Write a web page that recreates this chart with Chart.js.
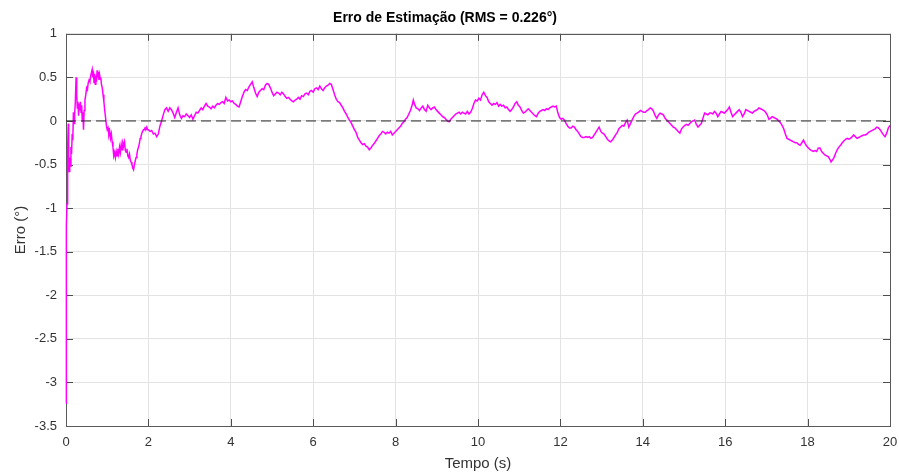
<!DOCTYPE html>
<html>
<head>
<meta charset="utf-8">
<script src="https://cdn.jsdelivr.net/npm/chart.js@4.4.0/dist/chart.umd.min.js"></script>
<style>
  html, body { margin: 0; padding: 0; background: #fff; }
  #wrap { width: 899px; height: 473px; }
</style>
</head>
<body>
<div id="wrap"><canvas id="myChart" width="899" height="473"></canvas></div>
<script>
// tempo (s) e erro (graus)
var tempo = [
  0, 0.004, 0.008, 0.015, 0.025, 0.035, 0.045, 0.055, 0.065, 0.075, 0.09, 0.105, 0.12, 0.135, 0.15, 0.165, 0.18, 0.195, 0.21, 0.225,
  0.245, 0.26, 0.275, 0.29, 0.305, 0.32, 0.335, 0.35, 0.365, 0.38, 0.395, 0.41, 0.425, 0.44, 0.46, 0.48, 0.5, 0.52, 0.54, 0.56,
  0.58, 0.6, 0.62, 0.635, 0.65, 0.665, 0.68, 0.695, 0.71, 0.725, 0.74, 0.755, 0.77, 0.785, 0.8, 0.815, 0.83, 0.845, 0.86, 0.88,
  0.9, 0.92, 0.94, 0.96, 0.98, 1.0, 1.02, 1.04, 1.06, 1.08, 1.1, 1.12, 1.14, 1.16, 1.18, 1.2, 1.22, 1.24, 1.26, 1.28,
  1.3, 1.32, 1.34, 1.36, 1.38, 1.4, 1.42, 1.44, 1.46, 1.48, 1.5, 1.52, 1.54, 1.56, 1.58, 1.6, 1.62, 1.64, 1.66, 1.68,
  1.7, 1.72, 1.74, 1.76, 1.78, 1.8, 1.82, 1.84, 1.86, 1.88, 1.9, 1.92, 1.94, 1.96, 1.98, 2.0, 2.04, 2.08, 2.12, 2.16,
  2.2, 2.24, 2.28, 2.32, 2.36, 2.4, 2.44, 2.48, 2.52, 2.56, 2.6, 2.64, 2.68, 2.72, 2.76, 2.8, 2.84, 2.88, 2.92, 2.96,
  3.0, 3.04, 3.08, 3.12, 3.16, 3.2, 3.24, 3.28, 3.32, 3.36, 3.4, 3.44, 3.48, 3.52, 3.56, 3.6, 3.64, 3.68, 3.72, 3.76,
  3.8, 3.84, 3.88, 3.92, 3.96, 4.0, 4.04, 4.08, 4.12, 4.16, 4.2, 4.24, 4.28, 4.32, 4.36, 4.4, 4.44, 4.48, 4.52, 4.56,
  4.6, 4.64, 4.68, 4.72, 4.76, 4.8, 4.84, 4.88, 4.92, 4.96, 5.0, 5.04, 5.08, 5.12, 5.16, 5.2, 5.24, 5.28, 5.32, 5.36,
  5.4, 5.44, 5.48, 5.52, 5.56, 5.6, 5.64, 5.68, 5.72, 5.76, 5.8, 5.84, 5.88, 5.92, 5.96, 6.0, 6.04, 6.08, 6.12, 6.16,
  6.2, 6.24, 6.28, 6.32, 6.36, 6.4, 6.44, 6.48, 6.52, 6.56, 6.6, 6.64, 6.68, 6.72, 6.76, 6.8, 6.84, 6.88, 6.92, 6.96,
  7.0, 7.04, 7.08, 7.12, 7.16, 7.2, 7.24, 7.28, 7.32, 7.36, 7.4, 7.44, 7.48, 7.52, 7.56, 7.6, 7.64, 7.68, 7.72, 7.76,
  7.8, 7.84, 7.88, 7.92, 7.96, 8.0, 8.04, 8.08, 8.12, 8.16, 8.2, 8.24, 8.28, 8.32, 8.36, 8.4, 8.43, 8.46, 8.5, 8.54,
  8.58, 8.62, 8.66, 8.7, 8.74, 8.78, 8.82, 8.86, 8.9, 8.94, 8.98, 9.02, 9.06, 9.1, 9.14, 9.18, 9.22, 9.26, 9.3, 9.34,
  9.38, 9.42, 9.46, 9.5, 9.54, 9.58, 9.62, 9.66, 9.7, 9.74, 9.78, 9.82, 9.86, 9.9, 9.94, 9.98, 10.02, 10.06, 10.1, 10.14,
  10.18, 10.22, 10.26, 10.3, 10.34, 10.38, 10.42, 10.46, 10.5, 10.54, 10.58, 10.62, 10.66, 10.7, 10.74, 10.78, 10.82, 10.86, 10.9, 10.94,
  10.98, 11.02, 11.06, 11.1, 11.14, 11.18, 11.22, 11.26, 11.3, 11.34, 11.38, 11.42, 11.46, 11.5, 11.54, 11.58, 11.62, 11.66, 11.7, 11.74,
  11.78, 11.82, 11.86, 11.9, 11.94, 11.98, 12.02, 12.06, 12.1, 12.14, 12.18, 12.22, 12.26, 12.3, 12.34, 12.38, 12.42, 12.46, 12.5, 12.54,
  12.58, 12.62, 12.66, 12.7, 12.74, 12.78, 12.82, 12.86, 12.9, 12.94, 12.98, 13.02, 13.06, 13.1, 13.14, 13.18, 13.22, 13.26, 13.3, 13.34,
  13.38, 13.42, 13.46, 13.5, 13.54, 13.58, 13.62, 13.66, 13.7, 13.74, 13.78, 13.82, 13.86, 13.9, 13.94, 13.98, 14.02, 14.06, 14.1, 14.14,
  14.18, 14.22, 14.26, 14.3, 14.34, 14.38, 14.42, 14.46, 14.5, 14.54, 14.58, 14.62, 14.66, 14.7, 14.74, 14.78, 14.82, 14.86, 14.9, 14.94,
  14.98, 15.02, 15.06, 15.1, 15.14, 15.18, 15.22, 15.26, 15.3, 15.34, 15.38, 15.42, 15.46, 15.5, 15.54, 15.58, 15.62, 15.66, 15.7, 15.74,
  15.78, 15.82, 15.86, 15.9, 15.94, 15.98, 16.02, 16.06, 16.1, 16.14, 16.18, 16.22, 16.26, 16.3, 16.34, 16.38, 16.42, 16.46, 16.5, 16.54,
  16.58, 16.62, 16.66, 16.7, 16.74, 16.78, 16.82, 16.86, 16.9, 16.94, 16.98, 17.02, 17.06, 17.1, 17.14, 17.18, 17.22, 17.26, 17.3, 17.34,
  17.38, 17.42, 17.46, 17.5, 17.54, 17.58, 17.62, 17.66, 17.7, 17.74, 17.78, 17.82, 17.86, 17.9, 17.94, 17.98, 18.02, 18.06, 18.1, 18.14,
  18.18, 18.22, 18.26, 18.3, 18.34, 18.38, 18.42, 18.46, 18.5, 18.54, 18.57, 18.6, 18.64, 18.68, 18.72, 18.76, 18.8, 18.84, 18.88, 18.92,
  18.96, 19.0, 19.04, 19.08, 19.12, 19.16, 19.2, 19.24, 19.28, 19.32, 19.36, 19.4, 19.44, 19.48, 19.52, 19.56, 19.6, 19.64, 19.68, 19.72,
  19.76, 19.8, 19.84, 19.88, 19.92, 19.96, 20.0
];
var erro = [
  -3.24, -2.3, -1.6, -1.2, -0.95, -0.7, -0.3, -0.03, -0.4, -0.58, -0.42, -0.52, -0.3, -0.38, -0.15, -0.22, 0.1, -0.03, 0.08, 0.2,
  0.5, 0.3, 0.15, 0.22, 0.06, 0.2, 0.12, 0.22, 0.1, 0.18, 0.0, 0.1, -0.1, 0.12, 0.24, 0.3, 0.38, 0.36, 0.44, 0.47,
  0.45, 0.52, 0.56, 0.59, 0.5, 0.57, 0.44, 0.54, 0.42, 0.52, 0.45, 0.58, 0.5, 0.56, 0.47, 0.53, 0.48, 0.5, 0.42, 0.38,
  0.3, 0.22, 0.12, 0.04, -0.05, -0.1, -0.08, -0.16, -0.12, -0.2, -0.15, -0.24, -0.3, -0.4, -0.36, -0.42, -0.35, -0.4, -0.32, -0.38,
  -0.3, -0.36, -0.27, -0.33, -0.25, -0.28, -0.24, -0.34, -0.36, -0.32, -0.4, -0.42, -0.38, -0.45, -0.47, -0.5, -0.54, -0.56, -0.5, -0.46,
  -0.42, -0.38, -0.33, -0.3, -0.26, -0.2, -0.18, -0.14, -0.12, -0.1, -0.1, -0.08, -0.09, -0.07, -0.1, -0.1, -0.12, -0.11, -0.15, -0.14,
  -0.18, -0.15, -0.06, 0.0, 0.07, 0.13, 0.15, 0.11, 0.15, 0.13, 0.09, 0.04, 0.1, 0.15, 0.07, 0.03, 0.06, 0.05, 0.08, 0.06,
  0.04, 0.07, 0.02, 0.06, 0.1, 0.09, 0.12, 0.15, 0.13, 0.17, 0.2, 0.17, 0.16, 0.14, 0.17, 0.15, 0.18, 0.2, 0.19, 0.21,
  0.22, 0.2, 0.27, 0.23, 0.24, 0.22, 0.23, 0.2, 0.19, 0.17, 0.16, 0.22, 0.28, 0.33, 0.36, 0.35, 0.39, 0.42, 0.45, 0.38,
  0.32, 0.28, 0.33, 0.35, 0.37, 0.36, 0.41, 0.43, 0.42, 0.38, 0.33, 0.29, 0.31, 0.33, 0.32, 0.3, 0.33, 0.31, 0.28, 0.26,
  0.27, 0.25, 0.23, 0.22, 0.24, 0.25, 0.27, 0.25, 0.29, 0.28, 0.31, 0.32, 0.3, 0.34, 0.35, 0.33, 0.37, 0.38, 0.36, 0.4,
  0.37, 0.35, 0.38, 0.4, 0.41, 0.43, 0.42, 0.36, 0.3, 0.25, 0.22, 0.21, 0.18, 0.15, 0.11, 0.08, 0.04, 0.01, -0.02, -0.06,
  -0.1, -0.13, -0.19, -0.22, -0.25, -0.27, -0.26, -0.29, -0.3, -0.33, -0.31, -0.28, -0.26, -0.23, -0.2, -0.17, -0.15, -0.12, -0.13, -0.15,
  -0.13, -0.14, -0.12, -0.16, -0.14, -0.12, -0.1, -0.08, -0.06, -0.03, -0.01, 0.02, 0.04, 0.08, 0.12, 0.18, 0.24, 0.19, 0.15, 0.14,
  0.12, 0.15, 0.17, 0.13, 0.11, 0.18, 0.15, 0.13, 0.15, 0.16, 0.13, 0.11, 0.09, 0.07, 0.05, 0.04, 0.02, 0.0, -0.01, 0.02,
  0.04, 0.06, 0.08, 0.09, 0.1, 0.08, 0.1, 0.09, 0.08, 0.11, 0.08, 0.1, 0.14, 0.2, 0.24, 0.23, 0.26, 0.24, 0.3, 0.33,
  0.29, 0.27, 0.22, 0.2, 0.18, 0.2, 0.19, 0.21, 0.17, 0.19, 0.17, 0.18, 0.15, 0.16, 0.13, 0.11, 0.13, 0.16, 0.2, 0.22,
  0.18, 0.16, 0.12, 0.09, 0.1, 0.12, 0.14, 0.12, 0.1, 0.08, 0.06, 0.05, 0.09, 0.11, 0.12, 0.13, 0.12, 0.14, 0.13, 0.15,
  0.16, 0.17, 0.16, 0.17, 0.09, 0.04, 0.02, 0.03, 0.01, -0.03, -0.06, -0.08, -0.08, -0.06, -0.07, -0.1, -0.12, -0.15, -0.18, -0.19,
  -0.19, -0.18, -0.19, -0.18, -0.2, -0.19, -0.16, -0.13, -0.1, -0.07, -0.12, -0.14, -0.15, -0.18, -0.21, -0.23, -0.24, -0.22, -0.19, -0.16,
  -0.13, -0.09, -0.07, -0.05, -0.06, -0.02, 0.01, -0.07, -0.03, 0.01, 0.05, 0.08, 0.09, 0.1, 0.12, 0.11, 0.1, 0.1, 0.12, 0.13,
  0.15, 0.14, 0.11, 0.06, 0.03, 0.07, 0.09, 0.08, 0.07, 0.03, 0.01, -0.01, -0.03, -0.05, -0.07, -0.08, -0.1, -0.12, -0.14, -0.09,
  -0.07, -0.05, -0.04, -0.05, -0.03, -0.01, 0.0, 0.01, -0.04, -0.07, -0.05, -0.03, 0.03, 0.09, 0.08, 0.07, 0.09, 0.09, 0.08, 0.11,
  0.09, 0.05, 0.08, 0.11, 0.1, 0.09, 0.11, 0.13, 0.16, 0.1, 0.05, 0.07, 0.09, 0.11, 0.13, 0.1, 0.05, 0.08, 0.13, 0.12,
  0.11, 0.1, 0.09, 0.11, 0.12, 0.13, 0.15, 0.14, 0.13, 0.12, 0.1, 0.07, 0.02, 0.03, 0.05, 0.04, 0.03, 0.02, 0.0, -0.02,
  -0.05, -0.09, -0.15, -0.2, -0.21, -0.22, -0.23, -0.24, -0.25, -0.25, -0.27, -0.28, -0.25, -0.22, -0.26, -0.29, -0.31, -0.33, -0.34, -0.35,
  -0.34, -0.35, -0.31, -0.31, -0.35, -0.37, -0.39, -0.4, -0.41, -0.44, -0.47, -0.45, -0.42, -0.37, -0.33, -0.3, -0.28, -0.25, -0.23, -0.21,
  -0.2, -0.21, -0.2, -0.18, -0.16, -0.18, -0.2, -0.19, -0.18, -0.17, -0.16, -0.16, -0.15, -0.13, -0.12, -0.11, -0.1, -0.09, -0.07, -0.08,
  -0.1, -0.13, -0.16, -0.18, -0.14, -0.08, -0.05
];
var xTicks = [0, 2, 4, 6, 8, 10, 12, 14, 16, 18, 20];
var yTicks = [-3.5, -3, -2.5, -2, -1.5, -1, -0.5, 0, 0.5, 1];
var zeroLine = [{x: 0, y: 0}, {x: 20, y: 0}];

var pontos = tempo.map(function (t, i) { return {x: t, y: erro[i]}; });

// caixa e marcas para dentro, estilo matlab (antes das linhas)
var boxPlugin = {
  id: "boxPlugin",
  beforeDatasetsDraw: function (chart) {
    var ctx = chart.ctx, a = chart.chartArea;
    var xs = chart.scales.x, ys = chart.scales.y;
    var len = 7;
    ctx.save();
    ctx.strokeStyle = "#4d4d4d";
    ctx.lineWidth = 1;
    ctx.beginPath();
    xTicks.forEach(function (v) {
      var px = Math.round(xs.getPixelForValue(v)) + 0.5;
      ctx.moveTo(px, a.bottom); ctx.lineTo(px, a.bottom - len);
      ctx.moveTo(px, a.top); ctx.lineTo(px, a.top + len);
    });
    yTicks.forEach(function (v) {
      var py = Math.round(ys.getPixelForValue(v)) + 0.5;
      ctx.moveTo(a.left, py); ctx.lineTo(a.left + len, py);
      ctx.moveTo(a.right, py); ctx.lineTo(a.right - len, py);
    });
    ctx.stroke();
    ctx.strokeStyle = "#5a5a5a";
    ctx.strokeRect(Math.round(a.left) + 0.5, Math.round(a.top) + 0.5,
      Math.round(a.right - a.left), Math.round(a.bottom - a.top));
    ctx.restore();
  }
};

function rotulo(v) { return String(v); }

new Chart("myChart", {
  type: "line",
  data: {
    datasets: [{
      data: zeroLine,
      borderColor: "#262626",
      borderWidth: 1,
      borderDash: [10, 5],
      pointRadius: 0
    }, {
      data: pontos,
      borderColor: "#ff00ff",
      borderWidth: 1.5,
      pointRadius: 0,
      tension: 0,
      clip: 3
    }]
  },
  options: {
    responsive: false,
    animation: false,
    events: [],
    layout: { padding: { left: 0, right: 9, top: 0, bottom: 0 } },
    plugins: {
      legend: { display: false },
      tooltip: { enabled: false },
      title: {
        display: true,
        text: "Erro de Estimação (RMS = 0.226°)",
        color: "#000",
        font: { family: "Liberation Sans, Arial, sans-serif", size: 14, weight: "bold" },
        padding: { top: 10, bottom: 7 }
      }
    },
    scales: {
      x: {
        type: "linear",
        min: 0,
        max: 20,
        afterBuildTicks: function (s) { s.ticks = xTicks.map(function (v) { return {value: v}; }); },
        afterFit: function (s) { s.height = 47; s.paddingLeft = 0; s.paddingRight = 0; },
        grid: { color: "#e3e3e3", drawTicks: false },
        border: { display: false },
        ticks: {
          color: "#333",
          padding: 9,
          maxRotation: 0,
          callback: rotulo,
          font: { family: "Liberation Sans, Arial, sans-serif", size: 13 }
        },
        title: {
          display: true,
          text: "Tempo (s)",
          color: "#333",
          padding: { top: 2, bottom: 0 },
          font: { family: "Liberation Sans, Arial, sans-serif", size: 15 }
        }
      },
      y: {
        type: "linear",
        min: -3.5,
        max: 1,
        afterBuildTicks: function (s) { s.ticks = yTicks.map(function (v) { return {value: v}; }); },
        afterFit: function (s) { s.width = 66; s.paddingTop = 0; s.paddingBottom = 0; },
        grid: { color: "#e3e3e3", drawTicks: false },
        border: { display: false },
        ticks: {
          color: "#333",
          padding: 9,
          callback: rotulo,
          font: { family: "Liberation Sans, Arial, sans-serif", size: 13 }
        },
        title: {
          display: true,
          text: "Erro (°)",
          color: "#333",
          padding: { top: 12, bottom: 0 },
          font: { family: "Liberation Sans, Arial, sans-serif", size: 15 }
        }
      }
    }
  },
  plugins: [boxPlugin]
});
</script>
</body>
</html>
